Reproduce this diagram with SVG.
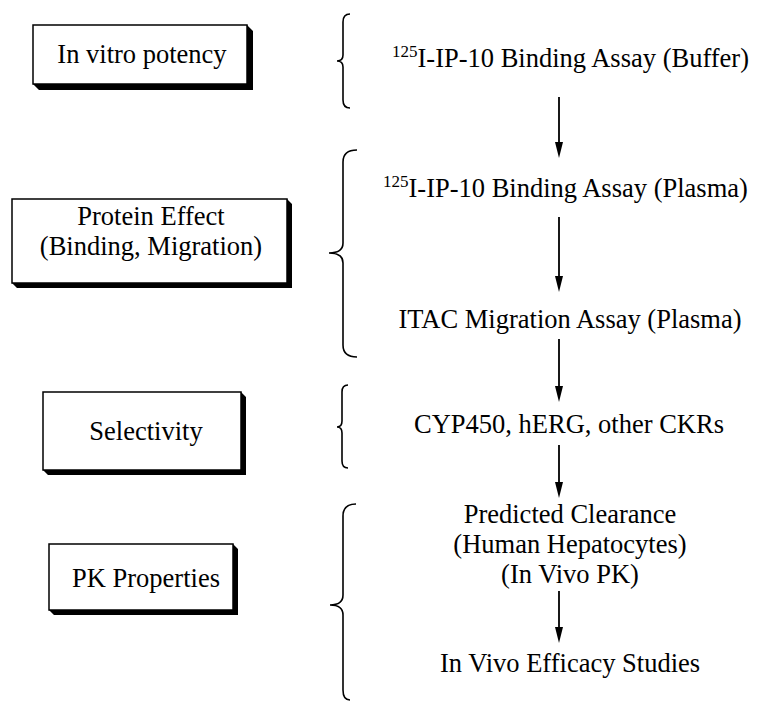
<svg xmlns="http://www.w3.org/2000/svg" width="759" height="702" viewBox="0 0 759 702">
<style>
.t{font-family:"Liberation Serif","Times New Roman",serif;font-size:26.5px;fill:#000}
.c{text-anchor:middle}
.sup{font-size:17px}
.box{fill:#fff;stroke:#000;stroke-width:1.5}
.sh{fill:#000}
.br{fill:none;stroke:#000;stroke-width:1.6}
.ar{stroke:#000;stroke-width:1.8;fill:none}
.hd{fill:#000}
</style>
<rect width="759" height="702" fill="#fff"/>

<g id="box-invitro">
<polygon class="sh" points="247,25 253,31 253,90 39,90 33,84 247,84"/>
<rect class="box" x="33" y="25" width="214" height="59"/>
<text class="t c" x="142" y="63">In vitro potency</text>
</g>
<g id="box-protein">
<polygon class="sh" points="287,199 292,204 292,288 17,288 12,283 287,283"/>
<rect class="box" x="12" y="199" width="275" height="84"/>
<text class="t c" x="151" y="225">Protein Effect</text>
<text class="t c" x="151" y="255">(Binding, Migration)</text>
</g>
<g id="box-selectivity">
<polygon class="sh" points="241,392 246,397 246,475 48,475 43,470 241,470"/>
<rect class="box" x="43" y="392" width="198" height="78"/>
<text class="t c" x="146" y="440">Selectivity</text>
</g>
<g id="box-pk">
<polygon class="sh" points="233,544 238,549 238,615 54,615 49,610 233,610"/>
<rect class="box" x="49" y="544" width="184" height="66"/>
<text class="t c" x="146" y="587">PK Properties</text>
</g>

<g id="braces">
<path class="br" d="M350,14 Q343,14 343,22 L343,55 Q343,61 337,61 Q343,61 343,67 L343,100 Q343,108 350,108"/>
<path class="br" d="M357,150 Q343,150 343,162 L343,243 Q343,253 329,253 Q343,253 343,263 L343,345 Q343,357 357,357"/>
<path class="br" d="M348,385 Q342,385 342,392 L342,421 Q342,427 337,427 Q342,427 342,433 L342,461 Q342,468 348,468"/>
<path class="br" d="M356,504 Q343,504 343,516 L343,595 Q343,605 330,605 Q343,605 343,615 L343,690 Q343,700 350,700"/>
</g>

<g id="step-buffer">
<text class="t" x="392" y="67"><tspan class="sup" dy="-10">125</tspan><tspan dy="10">I-IP-10 Binding Assay (Buffer)</tspan></text>
</g>
<g id="step-plasma">
<text class="t" x="383" y="197"><tspan class="sup" dy="-10">125</tspan><tspan dy="10">I-IP-10 Binding Assay (Plasma)</tspan></text>
</g>
<g id="step-itac">
<text class="t c" x="570" y="328">ITAC Migration Assay (Plasma)</text>
</g>
<g id="step-cyp">
<text class="t c" x="569" y="433">CYP450, hERG, other CKRs</text>
</g>
<g id="step-clearance">
<text class="t c" x="570" y="523">Predicted Clearance</text>
<text class="t c" x="570" y="553">(Human Hepatocytes)</text>
<text class="t c" x="570" y="583">(In Vivo PK)</text>
</g>
<g id="step-efficacy">
<text class="t c" x="570" y="672">In Vivo Efficacy Studies</text>
</g>

<g id="connectors">
<line class="ar" x1="559" y1="97" x2="559" y2="143"/>
<path class="hd" d="M555,142 L563,142 L559,158 Z"/>
<line class="ar" x1="559" y1="217" x2="559" y2="277"/>
<path class="hd" d="M555,276 L563,276 L559,292 Z"/>
<line class="ar" x1="559" y1="339" x2="559" y2="387"/>
<path class="hd" d="M555,386 L563,386 L559,402 Z"/>
<line class="ar" x1="559" y1="445" x2="559" y2="483"/>
<path class="hd" d="M555,482 L563,482 L559,498 Z"/>
<line class="ar" x1="559" y1="591" x2="559" y2="628"/>
<path class="hd" d="M555,627 L563,627 L559,643 Z"/>
</g>
</svg>
